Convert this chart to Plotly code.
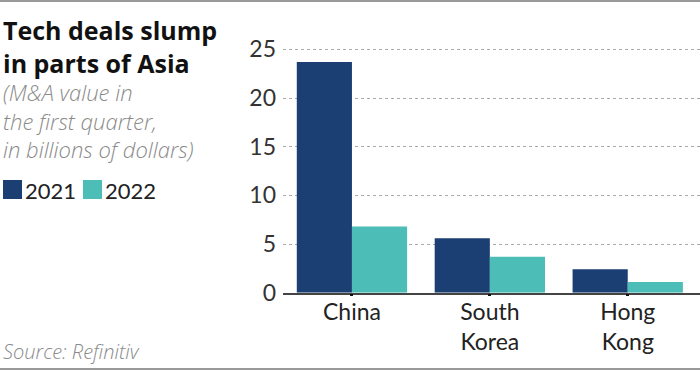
import plotly.graph_objects as go

categories = ["China", "South<br>Korea", "Hong<br>Kong"]
series_names = ["2021", "2022"]
values_2021 = [23.7, 5.6, 2.4]
values_2022 = [6.8, 3.7, 1.1]
y_ticks = [0, 5, 10, 15, 20, 25]

colors = ["#1b3f73", "#4dbdb8"]

W, H = 700, 370
L, R, T, B = 283, 700, 46.4, 292.7

def px(x):
    return x / W

def py(y):
    return 1 - y / H

FONT = "Lato"
FONT2 = "Open Sans"

fig = go.Figure()
for name, vals, c in zip(series_names, [values_2021, values_2022], colors):
    fig.add_trace(go.Bar(x=categories, y=vals, name=name, marker=dict(color=c, line=dict(width=0)),
                         showlegend=False))

fig.update_layout(
    template="none",
    width=W, height=H,
    margin=dict(l=0, r=0, t=0, b=0, pad=0),
    paper_bgcolor="white", plot_bgcolor="white",
    barmode="group", bargap=0.2, bargroupgap=0,
    font=dict(family=FONT, color="#222"),
    showlegend=False,
    xaxis=dict(domain=[L / W, R / W], range=[-0.5, 2.524], showline=True, linecolor="#444", linewidth=1.5,
               ticks="outside", ticklen=2, tickwidth=3, tickcolor="#111",
               tickfont=dict(size=23, color="#222", family=FONT), ticklabelstandoff=-4,
               showgrid=False, zeroline=False, fixedrange=True, automargin=False),
    yaxis=dict(domain=[1 - B / H, 1 - T / H], range=[0, 25.3], tickvals=y_ticks, showgrid=True, griddash="dot",
               gridcolor="#aaaaaa", gridwidth=1, zeroline=False, showline=False, ticks="",
               tickfont=dict(size=23, color="#333", family=FONT), ticklabelstandoff=6,
               fixedrange=True, automargin=False),
)

ann = []
ann.append(dict(text="<b>Tech deals slump<br>in parts of Asia</b>", xref="paper", yref="paper",
                x=px(1), y=py(11), xanchor="left", yanchor="top", align="left", showarrow=False,
                font=dict(size=25, color="#111", family=FONT2)))
ann.append(dict(text="<i>(M&A value in<br>the first quarter,<br>in billions of dollars)</i>", xref="paper", yref="paper",
                x=px(1), y=py(75), xanchor="left", yanchor="top", align="left", showarrow=False,
                font=dict(size=22, color="#8a8a8a", family=FONT2, weight=300)))
ann.append(dict(text="<i>Source: Refinitiv</i>", xref="paper", yref="paper", x=px(1), y=py(351),
                xanchor="left", yanchor="middle", align="left", showarrow=False,
                font=dict(size=20, color="#8a8a8a", family=FONT2, weight=300)))

shapes = []
legend_x = [3, 83]
for name, c, lx in zip(series_names, colors, legend_x):
    shapes.append(dict(type="rect", xref="paper", yref="paper", x0=px(lx), x1=px(lx + 19),
                       y0=py(199), y1=py(180), fillcolor=c, line=dict(width=0)))
    ann.append(dict(text=name, xref="paper", yref="paper", x=px(lx + 20), y=py(190),
                    xanchor="left", yanchor="middle",
                    showarrow=False, font=dict(size=22, color="#222", family=FONT)))

shapes.append(dict(type="line", xref="paper", yref="paper", x0=0, x1=1, y0=py(1), y1=py(1),
                   line=dict(color="#999", width=2)))
shapes.append(dict(type="line", xref="paper", yref="paper", x0=0, x1=1, y0=py(369), y1=py(369),
                   line=dict(color="#999", width=2)))

fig.update_layout(annotations=ann, shapes=shapes)
fig.write_html("out.html", config={"displayModeBar": False},
               post_script="document.body.style.margin='0';document.body.style.padding='0';")
